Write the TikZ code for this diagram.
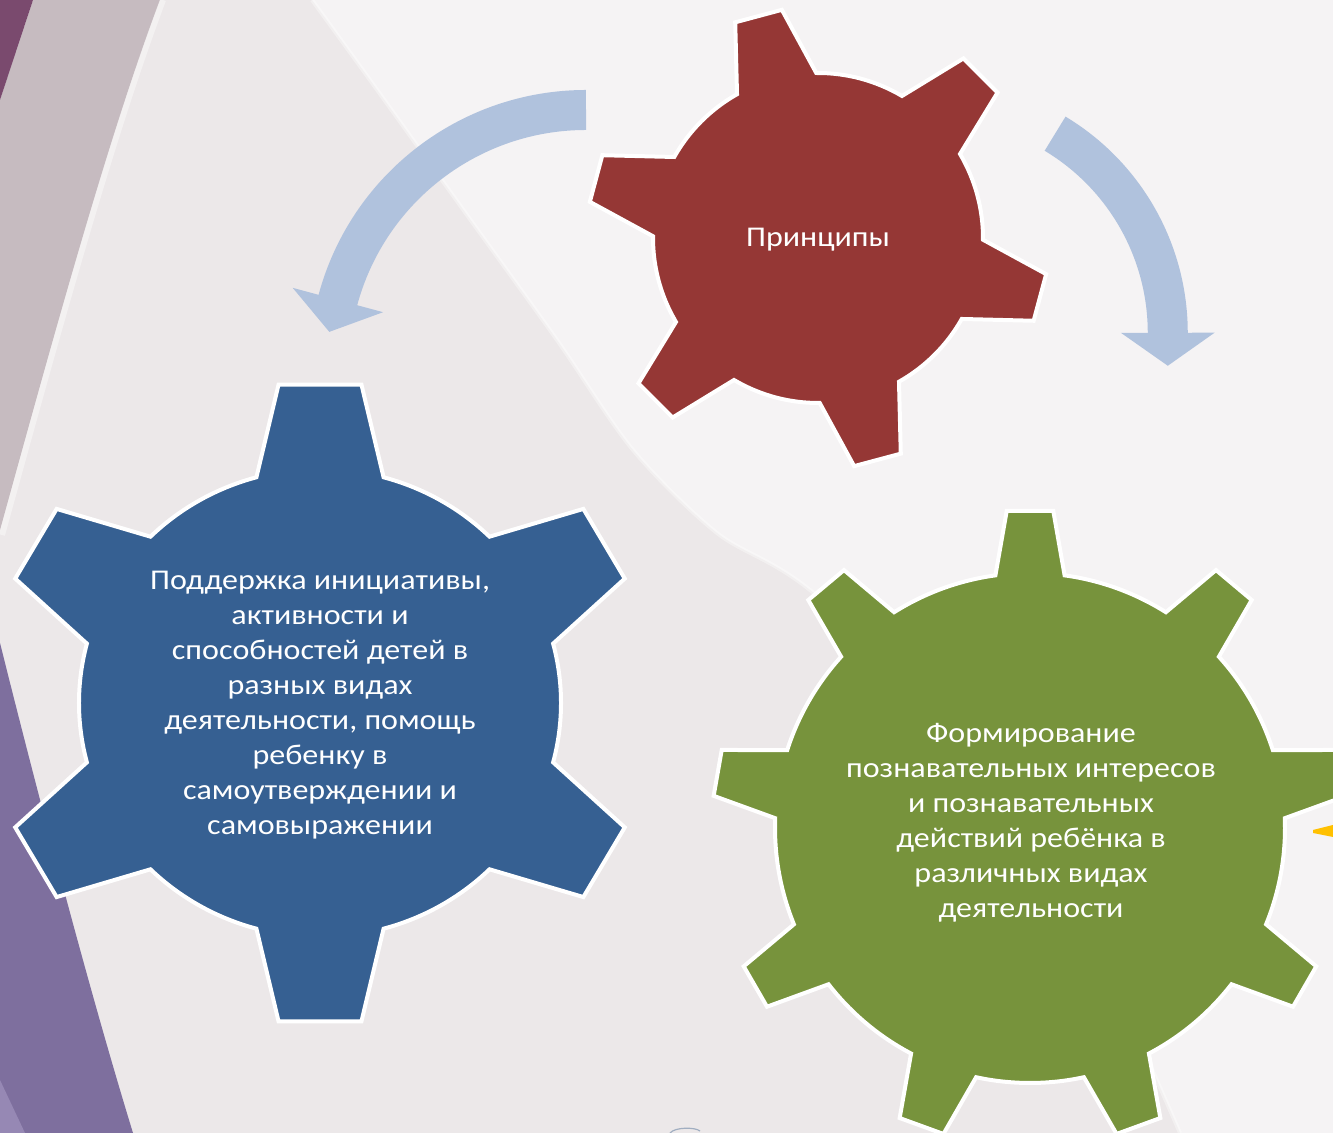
\documentclass[tikz,border=0pt]{standalone}
\usepackage{fontspec}
\setmainfont{Carlito}[FakeStretch=1.12]
\usepackage{tikz}
\usetikzlibrary{arrows.meta}
\usepackage{xcolor}
\definecolor{gearred}{RGB}{149,55,53}
\definecolor{gearblue}{RGB}{54,96,146}
\definecolor{geargreen}{RGB}{119,147,60}
\definecolor{arrowblue}{RGB}{176,194,221}
\definecolor{bglight}{RGB}{245,243,244}
\definecolor{bgshade}{RGB}{236,232,233}
\definecolor{bgmauve}{RGB}{198,187,192}
\definecolor{bgplum}{RGB}{122,74,110}
\definecolor{bgpurple}{RGB}{126,111,158}
\definecolor{bglavender}{RGB}{150,136,180}
\definecolor{accentyellow}{RGB}{255,192,0}
\tikzstyle{gearedge} = [draw=white, line width=2pt]
\tikzstyle{geartext} = [text=white, align=center, font=\fontsize{14.3}{17.5}\selectfont]
\tikzstyle{curvedarrow} = [line width=20pt, color=arrowblue, -{Triangle[width=46pt,length=16.5pt]}]

% gear: first tooth angle, teeth, body radius, tip radius, half base angle, half tip angle, fill
\newcommand{\gearshape}[7]{%
  \pgfmathsetmacro{\gearstep}{360/#2}
  \draw[gearedge, fill=#7] ({#1-#5}:#3)
  \foreach \k in {1,...,#2} {
    -- ({#1+(\k-1)*\gearstep-#6}:#4) -- ({#1+(\k-1)*\gearstep+#6}:#4)
    -- ({#1+(\k-1)*\gearstep+#5}:#3)
    arc[start angle={#1+(\k-1)*\gearstep+#5}, end angle={#1+\k*\gearstep-#5}, radius=#3]
  } -- cycle;
}

\begin{document}
\begin{tikzpicture}[x=0.5pt, y=0.5pt]
\useasboundingbox (0,0) rectangle (1333,1133);

% Background
\fill[bglight] (0,0) rectangle (1333,1133);
\fill[bgshade] plot[smooth] coordinates {(312,1133) (370,1053) (467,918) (557,793) (633,683) (717,600) (810,543) (1000,373) (1180,0)}
  -- (0,0) -- (0,1133) -- cycle;
\draw[white, opacity=0.35, line width=2pt] plot[smooth] coordinates {(312,1133) (370,1053) (467,918) (557,793) (633,683) (717,600) (810,543) (1000,373) (1180,0)};
\fill[bgmauve] (33,1133) -- (160,1133) .. controls (110,1000) and (60,820) .. (0,603) -- (0,1033) -- cycle;
\draw[white, opacity=0.4, line width=3pt] (163,1133) .. controls (113,1000) and (63,820) .. (2,598);
\fill[bgplum] (0,1133) -- (33,1133) -- (0,1033) -- cycle;
\fill[bgpurple] (0,490) .. controls (40,330) and (90,140) .. (133,0) -- (0,0) -- cycle;
\fill[bglavender] (0,53) -- (25,0) -- (0,0) -- cycle;
\fill[accentyellow] (1313,303) -- (1333,308) -- (1333,296) -- (1313,300) -- cycle;
\draw[arrowblue!70!gray, line width=0.6pt] (670,0) .. controls (675,6) and (695,6) .. (700,2);

% Arrows
\coordinate (lstart) at (586,1023);
\coordinate (ltip) at (329.3,801.1);
\draw[curvedarrow] (lstart) arc[start angle=90, end angle=164.9, radius=257] -- (ltip);
\coordinate (rstart) at (1055.1,999.3);
\coordinate (rtip) at (1167.8,767.2);
\draw[curvedarrow] (rstart) arc[start angle=59, end angle=0, radius=232.3] -- (rtip);

% Gears
\begin{scope}[shift={(818,895)}]
\gearshape{105}{6}{165}{231}{14.4}{6}{gearred}
\end{scope}
\begin{scope}[shift={(320,430)}, xscale=1.03]
\gearshape{90}{6}{234}{321}{15.3}{7.2}{gearblue}
\end{scope}
\begin{scope}[shift={(1030,305)}]
\gearshape{90}{9}{255}{318}{7.8}{4.2}{geargreen}
\end{scope}

% Texts
\node[geartext] (principles) at (818,893) {Принципы};
\node[geartext] (support) at (320,428) {Поддержка инициативы,\\ активности и\\ способностей детей в\\ разных видах\\ деятельности, помощь\\ ребенку в\\ самоутверждении и\\ самовыражении};
\node[geartext] (cognition) at (1031,310) {Формирование\\ познавательных интересов\\ и познавательных\\ действий ребёнка в\\ различных видах\\ деятельности};
\end{tikzpicture}
\end{document}
